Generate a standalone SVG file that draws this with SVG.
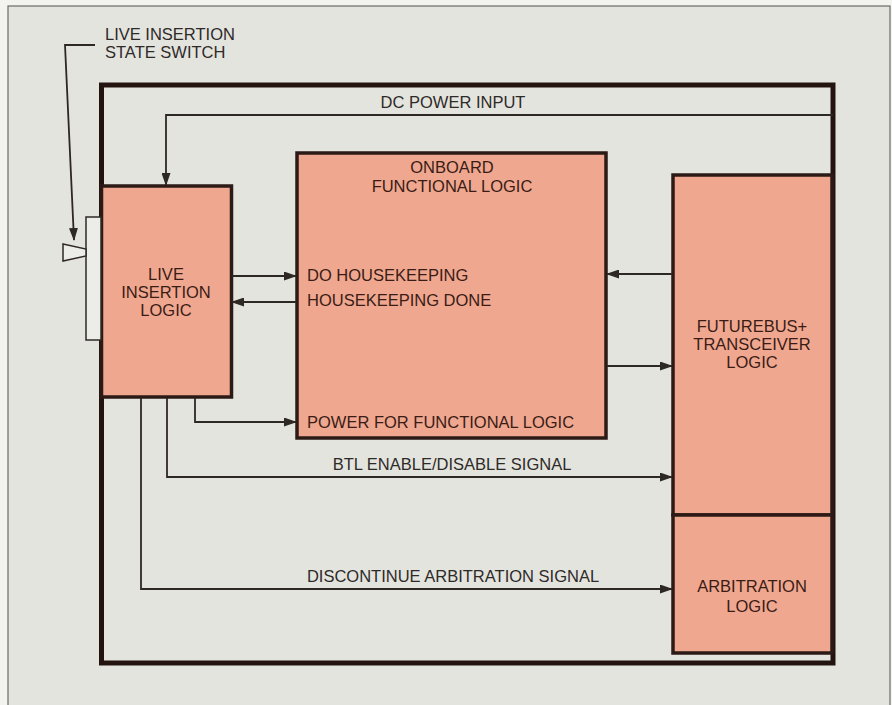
<svg xmlns="http://www.w3.org/2000/svg" width="892" height="705" viewBox="0 0 892 705">
<defs>
<style>
.box{fill:#f0a78f;stroke:#2b1a16;stroke-width:3.5}
.wire{fill:none;stroke:#2e2824;stroke-width:1.8}
.t{font-family:"Liberation Sans",Arial,sans-serif;font-size:16.5px;fill:#2e2a28}
.tb{font-family:"Liberation Sans",Arial,sans-serif;font-size:16.5px;fill:#3a1c16}
.c{text-anchor:middle}
</style>
<marker id="ah" markerWidth="13" markerHeight="9" refX="12" refY="4.5" orient="auto" markerUnits="userSpaceOnUse">
<path d="M0,0 L13,4.5 L0,9 Z" fill="#2e2824"/>
</marker>
</defs>
<rect x="0" y="0" width="892" height="705" fill="#f3f3ef"/>
<rect x="8" y="6" width="882" height="710" fill="#e4e4df" stroke="#6a6a66" stroke-width="1.2"/>
<g id="frame">
<rect x="101.5" y="85" width="731.5" height="578" fill="none" stroke="#24140f" stroke-width="5"/>
</g>
<g id="live-insertion-logic">
<rect class="box" x="101.5" y="186" width="130" height="211"/>
<text class="tb c" x="166" y="280">LIVE</text>
<text class="tb c" x="166" y="298">INSERTION</text>
<text class="tb c" x="166" y="316">LOGIC</text>
</g>
<g id="switch">
<rect x="86" y="217" width="15" height="123" fill="#ecece8" stroke="#2e2824" stroke-width="1.5"/>
<polygon points="63,244 86,249 86,256 63,261" fill="#ecece8" stroke="#2e2824" stroke-width="1.5"/>
<text class="t" x="105" y="40">LIVE INSERTION</text>
<text class="t" x="105" y="58">STATE SWITCH</text>
</g>
<g id="onboard-functional-logic">
<rect class="box" x="297" y="153" width="309" height="285"/>
<text class="tb c" x="452" y="173">ONBOARD</text>
<text class="tb c" x="452" y="192">FUNCTIONAL LOGIC</text>
<text class="tb" x="307" y="281">DO HOUSEKEEPING</text>
<text class="tb" x="307" y="306">HOUSEKEEPING DONE</text>
<text class="tb" x="307" y="428">POWER FOR FUNCTIONAL LOGIC</text>
</g>
<g id="futurebus-transceiver-logic">
<rect class="box" x="673" y="175" width="159" height="340"/>
<text class="tb c" x="752" y="332">FUTUREBUS+</text>
<text class="tb c" x="752" y="350">TRANSCEIVER</text>
<text class="tb c" x="752" y="368">LOGIC</text>
</g>
<g id="arbitration-logic">
<rect class="box" x="673" y="515" width="159" height="138"/>
<text class="tb c" x="752" y="592">ARBITRATION</text>
<text class="tb c" x="752" y="612">LOGIC</text>
</g>
<g id="connectors">
<polyline class="wire" points="95,45 65,45 74,240" marker-end="url(#ah)"/>
<polyline class="wire" points="833,115 166,115 166,185" marker-end="url(#ah)"/>
<line class="wire" x1="232" y1="276" x2="296" y2="276" marker-end="url(#ah)"/>
<line class="wire" x1="296" y1="302" x2="232" y2="302" marker-end="url(#ah)"/>
<line class="wire" x1="672" y1="274" x2="607" y2="274" marker-end="url(#ah)"/>
<line class="wire" x1="607" y1="366" x2="672" y2="366" marker-end="url(#ah)"/>
<polyline class="wire" points="195,398 195,422 296,422" marker-end="url(#ah)"/>
<polyline class="wire" points="167,398 167,477 672,477" marker-end="url(#ah)"/>
<polyline class="wire" points="141,398 141,589 672,589" marker-end="url(#ah)"/>
<text class="t c" x="453" y="108">DC POWER INPUT</text>
<text class="t c" x="452" y="470">BTL ENABLE/DISABLE SIGNAL</text>
<text class="t c" x="453" y="582">DISCONTINUE ARBITRATION SIGNAL</text>
</g>
</svg>
